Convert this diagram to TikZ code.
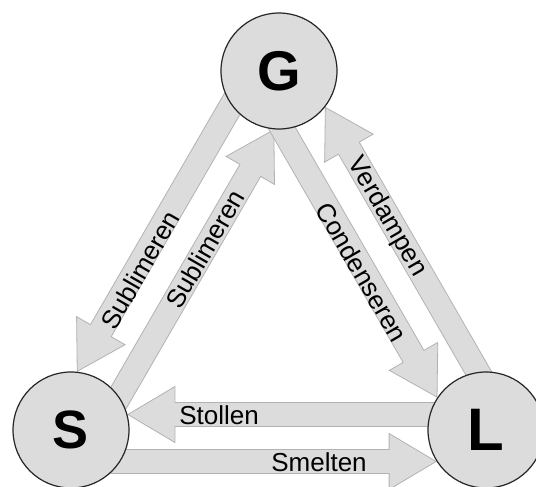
\documentclass[tikz,border=0pt]{standalone}
\usepackage{fontspec}
\setmainfont{Liberation Sans}
\usepackage{xcolor}
\usetikzlibrary{calc, backgrounds}

\definecolor{phasegray}{RGB}{220,220,220}
\definecolor{arrowedge}{RGB}{178,178,178}

\begin{document}
\begin{tikzpicture}[x=1pt, y=-1pt,
  phase/.style={circle, draw=black!85, line width=1.2pt, fill=phasegray, minimum size=116pt,
               inner sep=0pt, font=\fontsize{56}{60}\selectfont\bfseries},
  lbl/.style={font=\fontsize{26}{30}\selectfont, inner sep=0pt},
  lane/.code={\def\lanedist{#1pt}\pgfmathparse{sqrt(59*59-(#1)*(#1))}\edef\lanegap{\pgfmathresult pt}},
  fat/.style={draw=arrowedge, fill=phasegray, line width=0.8pt, line join=miter,
    to path={let \p1=($(\tikztostart)!\lanedist!90:(\tikztotarget)$),
                 \p2=($(\tikztotarget)!\lanegap!(\tikztostart)$),
                 \p3=($(\p2)!\lanedist!-90:(\tikztostart)$),
                 \p4=($(\p3)!47pt!(\p1)$)
             in ($(\p1)!12pt!90:(\p3)$) -- ($(\p4)!12pt!90:(\p3)$) -- ($(\p4)!28pt!90:(\p3)$)
                -- (\p3) -- ($(\p4)!28pt!-90:(\p3)$) -- ($(\p4)!12pt!-90:(\p3)$)
                -- ($(\p1)!12pt!-90:(\p3)$) -- cycle}},
]
  \useasboundingbox (0,0) rectangle (536,487);

  \node[phase] (G) at (279,71) {G};
  \node[phase, font=\fontsize{54}{58}\selectfont\bfseries] (S) at (71,430) {S};
  \node[phase, font=\fontsize{60}{64}\selectfont\bfseries] (L) at (486,430) {L};

  \begin{scope}[on background layer]
    \draw[fat, lane=-24] (G) to (S);
    \draw[fat, lane=-25] (S) to (G);
    \draw[fat, lane=-26] (G) to (L);
    \draw[fat, lane=-22] (L) to (G);
    \draw[fat, lane=-15.5] (L) to (S);
    \draw[fat, lane=-31.5] (S) to (L);
  \end{scope}

  % labels along the arrows
  \node[lbl, rotate=60] (sub1) at (140,270) {Sublimeren};
  \node[lbl, rotate=60] (sub2) at (205,249) {Sublimeren};
  \node[lbl, rotate=-60] (cond) at (362,272) {Condenseren};
  \node[lbl, rotate=-60] (verd) at (387,217) {Verdampen};
  \node[lbl] (stol) at (219,415) {Stollen};
  \node[lbl] (smel) at (319,462) {Smelten};
\end{tikzpicture}
\end{document}
